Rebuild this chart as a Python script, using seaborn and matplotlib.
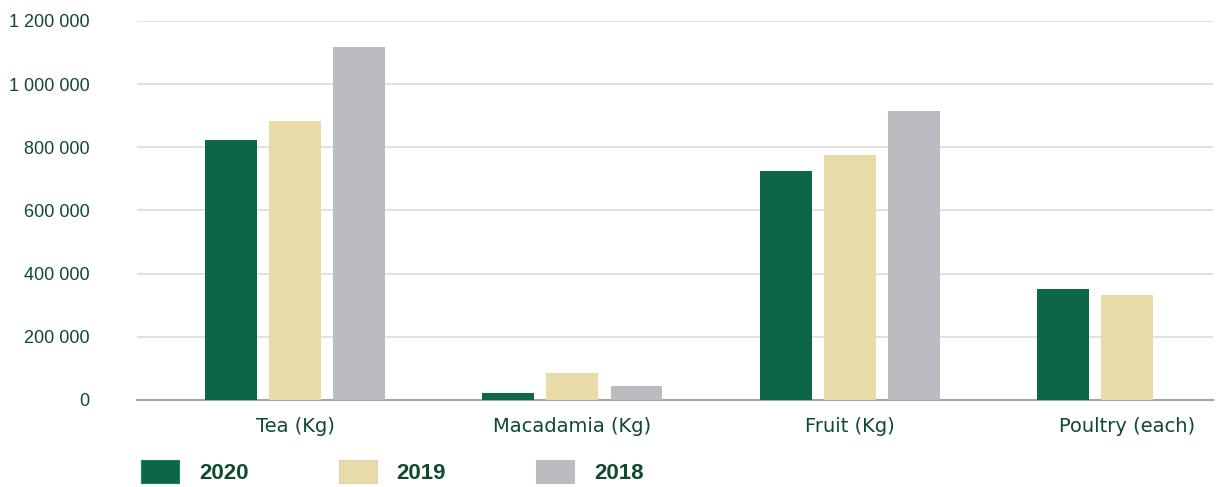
import pandas as pd
import matplotlib.pyplot as plt
import seaborn as sns
from matplotlib.patches import Patch
from matplotlib.ticker import FuncFormatter

# Data
categories = ["Tea (Kg)", "Macadamia (Kg)", "Fruit (Kg)", "Poultry (each)"]
years = ["2020", "2019", "2018"]
values_2020 = [823000, 23000, 725000, 351000]
values_2019 = [883000, 85000, 776000, 332000]
values_2018 = [1118000, 44000, 915000, None]

colors = ["#0d6646", "#e8dba8", "#bbbcbf"]
text_color = "#0f4a2e"

rows = []
for year, vals in zip(years, [values_2020, values_2019, values_2018]):
    for cat, v in zip(categories, vals):
        if v is not None:
            rows.append({"category": cat, "year": year, "value": v})
df = pd.DataFrame(rows)

sns.set_style("white")
plt.rcParams["font.family"] = ["Liberation Sans", "DejaVu Sans"]

fig = plt.figure(figsize=(12.21, 4.87), dpi=100)
ax = fig.add_axes([137 / 1221, 87 / 487, 1076 / 1221, 379 / 487])

sns.barplot(data=df, x="category", y="value", hue="year",
            order=categories, hue_order=years, palette=colors,
            width=0.693, gap=0.19, saturation=1, legend=False, ax=ax,
            linewidth=0, zorder=3)

ax.set_xlim(-0.57, 3.31)
ax.set_ylim(0, 1200000)
ax.set_yticks(range(0, 1200001, 200000))
ax.yaxis.set_major_formatter(FuncFormatter(lambda v, p: f"{int(v):,}".replace(",", " ")))
ax.grid(axis="y", color="#dcdcdc", linewidth=1.2, zorder=0)
ax.set_axisbelow(True)
for s in ["top", "right", "left"]:
    ax.spines[s].set_visible(False)
ax.spines["bottom"].set_color("#a5a5a5")
ax.spines["bottom"].set_linewidth(1.5)
ax.set_xlabel("")
ax.set_ylabel("")
ax.tick_params(axis="y", length=0, pad=34, labelsize=13, labelcolor=text_color)
ax.tick_params(axis="x", length=0, pad=12, labelcolor=text_color)
for lbl in ax.get_xticklabels():
    lbl.set_fontfamily("DejaVu Sans")
    lbl.set_fontsize(14)

handles = [Patch(facecolor=c, edgecolor=sns.set_hls_values(c, l=0.3) if i == 0 else sns.desaturate(c, 0.6),
                 linewidth=0.8, label=y) for i, (c, y) in enumerate(zip(colors, years))]
leg = fig.legend(handles=handles, loc="center left", bbox_to_anchor=(141 / 1221, 1 - 472 / 487),
                 ncol=3, frameon=False, handlelength=1.71, handleheight=1.2,
                 handletextpad=0.9, columnspacing=4.05, borderpad=0, borderaxespad=0,
                 prop={"size": 16, "weight": "bold"})
for t in leg.get_texts():
    t.set_color(text_color)

fig.savefig("out.png", dpi=100)
